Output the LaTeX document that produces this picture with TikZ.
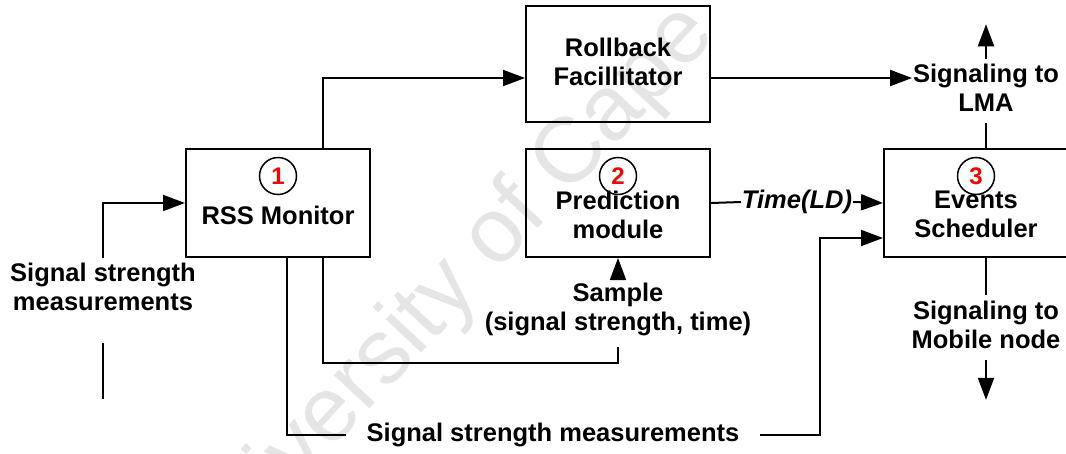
\documentclass[tikz,border=0pt]{standalone}
\usepackage{fontspec}
\setmainfont{Liberation Sans}
\usetikzlibrary{arrows.meta}

\tikzset{
  block/.style={draw, line width=2pt, minimum width=184pt, minimum height=108pt, inner sep=0pt},
  lbl/.style={font=\fontsize{25.5}{29}\selectfont\bfseries, align=center, inner sep=0pt},
  num/.style={draw, circle, line width=1.5pt, minimum size=37pt, inner sep=0pt, text=red,
    font=\fontsize{24}{24}\selectfont\bfseries},
  arr/.style={-{Triangle[length=22pt,width=16pt]}},
}

\begin{document}
\begin{tikzpicture}[x=1pt, y=-1pt, line width=2pt]
    \useasboundingbox (0,0) rectangle (1066,453);

    % Watermark
    \node[rotate=47, text=black!10, font=\fontsize{92}{92}\selectfont] (wm) at (526,207) {University of Cape Town};

    % Blocks
    \node[block] (rss) at (278,203) {};
    \node[block, minimum height=116pt] (roll) at (618,64) {};
    \node[block] (pred) at (618,203) {};
    \node[block] (evt) at (976,203) {};

    % Numbers
    \node[num] (n1) at (278,176) {1};
    \node[num] (n2) at (618,176) {2};
    \node[num] (n3) at (976,176) {3};

    % Block texts
    \node[lbl] (rsst) at (278,215) {RSS Monitor};
    \node[lbl] (rollt) at (618,62) {Rollback\\Facillitator};
    \node[lbl] (predt) at (618,215) {Prediction\\module};
    \node[lbl] (evtt) at (976,214) {Events\\Scheduler};

    % Labels
    \node[lbl] (ssin) at (103,287) {Signal strength\\measurements};
    \node[lbl] (ssm) at (553,435) {Signal strength measurements};
    \node[lbl] (smp) at (618,309) {Sample\\(signal strength, time)};
    \node[lbl, font=\fontsize{25.5}{29}\selectfont\bfseries\itshape] (tld) at (797,202) {Time(LD)};
    \node[lbl] (lma) at (986,88) {Signaling to\\LMA};
    \node[lbl] (mob) at (986,325) {Signaling to\\Mobile node};

    % Loose ends
    \coordinate (stubA) at (103,343);
    \coordinate (stubB) at (103,399);

    % Connectors
    \draw[arr, shorten <=4pt] (ssin.north) |- (rss.west);
    \draw (stubA) -- (stubB);
    \draw[arr] ([xshift=45pt]rss.north) |- ([yshift=-14pt]roll.west);
    \draw[arr] ([yshift=-14pt]roll.east) -- (lma.west |- 0,78);
    \draw ([xshift=9pt]rss.south) |- ([xshift=-20pt]ssm.west);
    \draw[arr] ([xshift=20pt]ssm.east) -- ++(60,0) |- ([yshift=-35pt]evt.west);
    \draw ([xshift=45pt]rss.south) |- ([yshift=-27pt]smp.south) -- ([yshift=-11pt]smp.south);
    \draw[arr] ([yshift=5pt]smp.north) -- (pred.south);
    \draw (pred.east) -- (tld.west);
    \draw[arr] (tld.east) -- (evt.west);
    \draw (lma.south |- evt.north) -- ([yshift=-10pt]lma.south);
    \draw[arr] ([yshift=4pt]lma.north) -- ++(0,-35);
    \draw (mob.north |- evt.south) -- ([yshift=5pt]mob.north);
    \draw[arr] ([yshift=-10pt]mob.south) -- ++(0,40);
\end{tikzpicture}
\end{document}
